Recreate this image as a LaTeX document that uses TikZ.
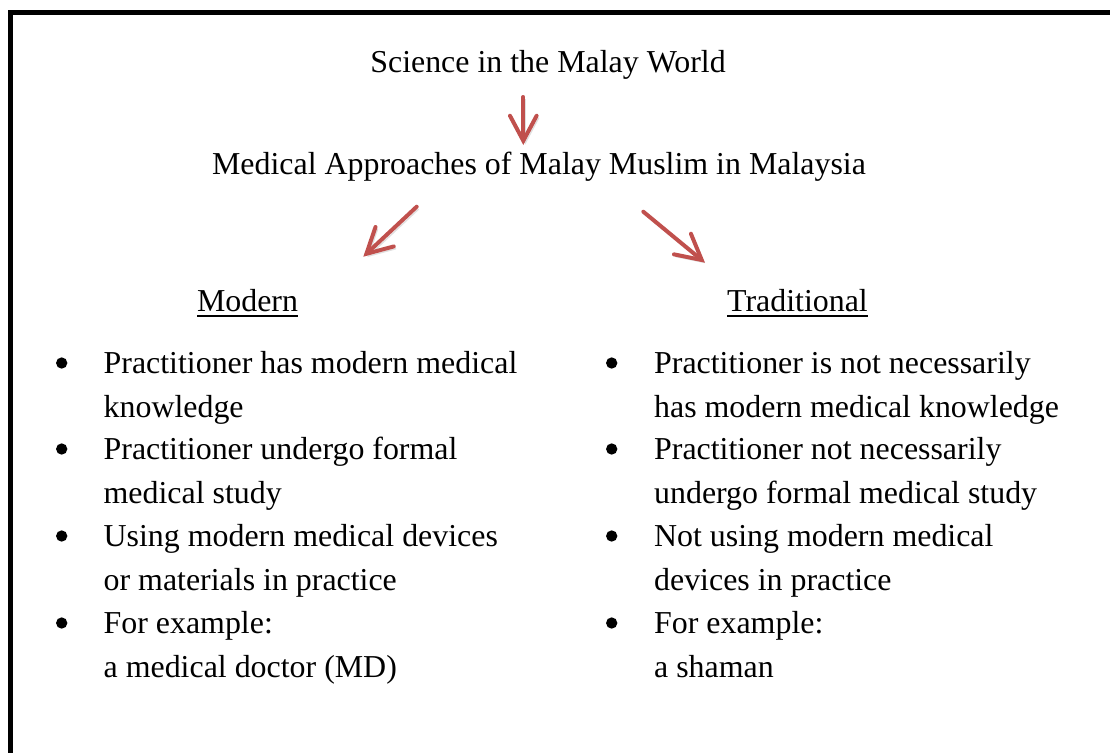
\documentclass[tikz,border=0pt]{standalone}
\usepackage{fontspec}
\setmainfont{Liberation Serif}
\usetikzlibrary{arrows.meta}
\definecolor{arrowred}{HTML}{C0504D}

\begin{document}
\begin{tikzpicture}[x=0.3pt, y=-0.3pt,
        every node/.style={font=\fontsize{9.57}{13.02}\selectfont, inner sep=0pt},
        item/.style={anchor=base west, align=left},
        dot/.style={circle, fill, minimum size=3.4pt},
        link/.style={draw=arrowred, line width=1.2pt, line cap=round,
            -{Straight Barb[length=7.5pt, width=8pt, line cap=round]},
            preaction={draw=black!12, transform canvas={shift={(0.6pt,-0.7pt)}}}}]
    \clip (0,0) rectangle (1110,752);
    % frame
    \draw [line width=1.5pt] (10,800) -- (10,12.5) -- (1160,12.5);

    \node (world) [anchor=base] at (548,72) {Science in the Malay World};
    \node (approach) [anchor=base] at (539,174) {Medical Approaches of Malay Muslim in Malaysia};
    \node (modern) [anchor=base] at (247.5,311) {\underline{Modern}};
    \node (trad) [anchor=base] at (797.5,311) {\underline{Traditional}};

    % arrow ends
    \coordinate (w1) at (523.3,97);
    \coordinate (w2) at (523.3,145);
    \coordinate (m1) at (416.7,206.7);
    \coordinate (m2) at (363.3,256.7);
    \coordinate (t1) at (643.3,211.7);
    \coordinate (t2) at (705,262.7);
    \draw [link] (w1) -- (w2);
    \draw [link] (m1) -- (m2);
    \draw [link] (t1) -- (t2);

    % modern column (base anchor sits on the last line)
    \node (mdot1) [dot] at (61.7,363) {};
    \node (mdot2) [dot] at (61.7,449) {};
    \node (mdot3) [dot] at (61.7,536) {};
    \node (mdot4) [dot] at (61.7,623) {};
    \node (mitem1) [item] at (103,417) {Practitioner has modern medical\\knowledge};
    \node (mitem2) [item] at (103,503) {Practitioner undergo formal\\medical study};
    \node (mitem3) [item] at (103,590) {Using modern medical devices\\or materials in practice};
    \node (mitem4) [item] at (103,677) {For example:\\a medical doctor (MD)};

    % traditional column
    \node (tdot1) [dot] at (611.7,363) {};
    \node (tdot2) [dot] at (611.7,449) {};
    \node (tdot3) [dot] at (611.7,536) {};
    \node (tdot4) [dot] at (611.7,623) {};
    \node (titem1) [item] at (653.5,417) {Practitioner is not necessarily\\has modern medical knowledge};
    \node (titem2) [item] at (653.5,503) {Practitioner not necessarily\\undergo formal medical study};
    \node (titem3) [item] at (653.5,590) {Not using modern medical\\devices in practice};
    \node (titem4) [item] at (653.5,677) {For example:\\a shaman};
\end{tikzpicture}
\end{document}
